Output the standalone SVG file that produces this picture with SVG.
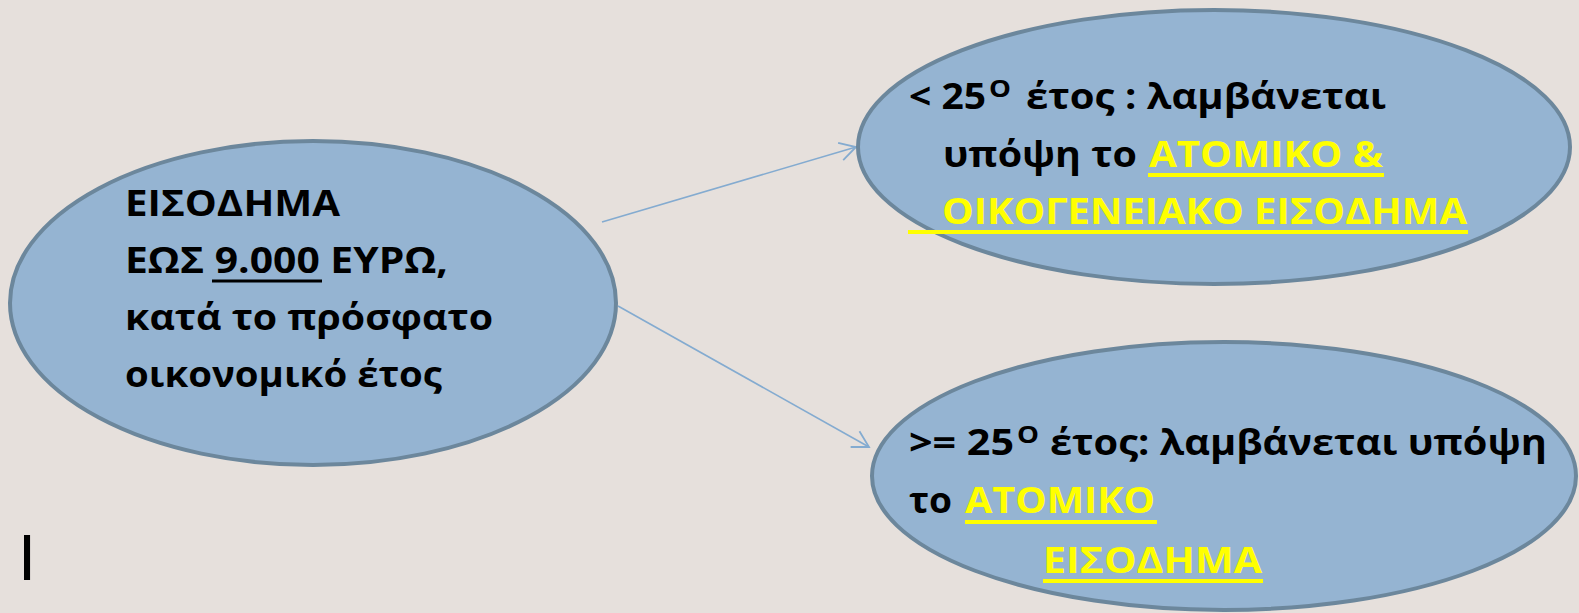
<svg xmlns="http://www.w3.org/2000/svg" width="1579" height="613" viewBox="0 0 1579 613">
  <defs>
    <style>
      .bg { fill: #e6e0dc; }
      .node { fill: #95b4d2; stroke: #6c879c; stroke-width: 4; }
      .t { font-family: "Open Sans", "Noto Sans", "DejaVu Sans", sans-serif; font-weight: 700; font-size: 36px; fill: #000000; }
      .sup { font-size: 24px; }
      .y { fill: #ffff00; }
      .ul { stroke: #000000; stroke-width: 3; }
      .uly { stroke: #ffff00; stroke-width: 4; }
      .conn { fill: none; stroke: #84abd0; stroke-width: 1.6; }
    </style>
    <marker id="arrow" markerUnits="userSpaceOnUse" markerWidth="24" markerHeight="24" viewBox="-20 -12 24 24" refX="0" refY="0" orient="auto">
      <path d="M-16,-9 L0,0 L-16,9" fill="none" stroke="#84abd0" stroke-width="1.8"/>
    </marker>
  </defs>
  <rect class="bg" x="0" y="0" width="1579" height="613"/>

  <g id="connectors">
    <line class="conn" x1="602" y1="222" x2="856" y2="147" marker-end="url(#arrow)"/>
    <line class="conn" x1="618" y1="306" x2="869" y2="447" marker-end="url(#arrow)"/>
  </g>

  <g id="node-income">
    <ellipse class="node" cx="313" cy="303" rx="303" ry="162"/>
    <text class="t" x="125" y="216" textLength="215" lengthAdjust="spacingAndGlyphs">ΕΙΣΟΔΗΜΑ</text>
    <text class="t" x="125" y="273" textLength="323" lengthAdjust="spacingAndGlyphs">ΕΩΣ 9.000 ΕΥΡΩ,</text>
    <line class="ul" x1="212" y1="281" x2="322" y2="281"/>
    <text class="t" x="125" y="330" textLength="368" lengthAdjust="spacingAndGlyphs">κατά το πρόσφατο</text>
    <text class="t" x="125" y="387" textLength="317" lengthAdjust="spacingAndGlyphs">οικονομικό έτος</text>
  </g>

  <g id="node-under25">
    <ellipse class="node" cx="1214" cy="147" rx="356" ry="137"/>
    <text class="t" x="909" y="109" textLength="77" lengthAdjust="spacingAndGlyphs">&lt; 25</text>
    <text class="t sup" x="989" y="97" textLength="22" lengthAdjust="spacingAndGlyphs">O</text>
    <text class="t" x="1026" y="109" textLength="360" lengthAdjust="spacingAndGlyphs">έτος : λαμβάνεται</text>
    <text class="t" x="943" y="167" textLength="194" lengthAdjust="spacingAndGlyphs">υπόψη το</text>
    <text class="t y" x="1149" y="167" textLength="234" lengthAdjust="spacingAndGlyphs">ΑΤΟΜΙΚΟ &amp;</text>
    <line class="uly" x1="1148" y1="175" x2="1384" y2="175"/>
    <text class="t y" x="942" y="224" textLength="525" lengthAdjust="spacingAndGlyphs">ΟΙΚΟΓΕΝΕΙΑΚΟ ΕΙΣΟΔΗΜΑ</text>
    <line class="uly" x1="908" y1="232" x2="1468" y2="232"/>
  </g>

  <g id="node-over25">
    <ellipse class="node" cx="1224" cy="476" rx="352" ry="134"/>
    <text class="t" x="909" y="455" textLength="105" lengthAdjust="spacingAndGlyphs">&gt;= 25</text>
    <text class="t sup" x="1017" y="443" textLength="22" lengthAdjust="spacingAndGlyphs">O</text>
    <text class="t" x="1050" y="455" textLength="497" lengthAdjust="spacingAndGlyphs">έτος: λαμβάνεται υπόψη</text>
    <text class="t" x="909" y="513" textLength="43" lengthAdjust="spacingAndGlyphs">το</text>
    <text class="t y" x="965" y="513" textLength="190" lengthAdjust="spacingAndGlyphs">ΑΤΟΜΙΚΟ</text>
    <line class="uly" x1="965" y1="522" x2="1157" y2="522"/>
    <text class="t y" x="1043" y="573" textLength="219" lengthAdjust="spacingAndGlyphs">ΕΙΣΟΔΗΜΑ</text>
    <line class="uly" x1="1043" y1="581" x2="1263" y2="581"/>
  </g>

  <text x="18" y="580" font-family="Liberation Sans, Arial, sans-serif" font-size="65" fill="#000000">I</text>
</svg>
